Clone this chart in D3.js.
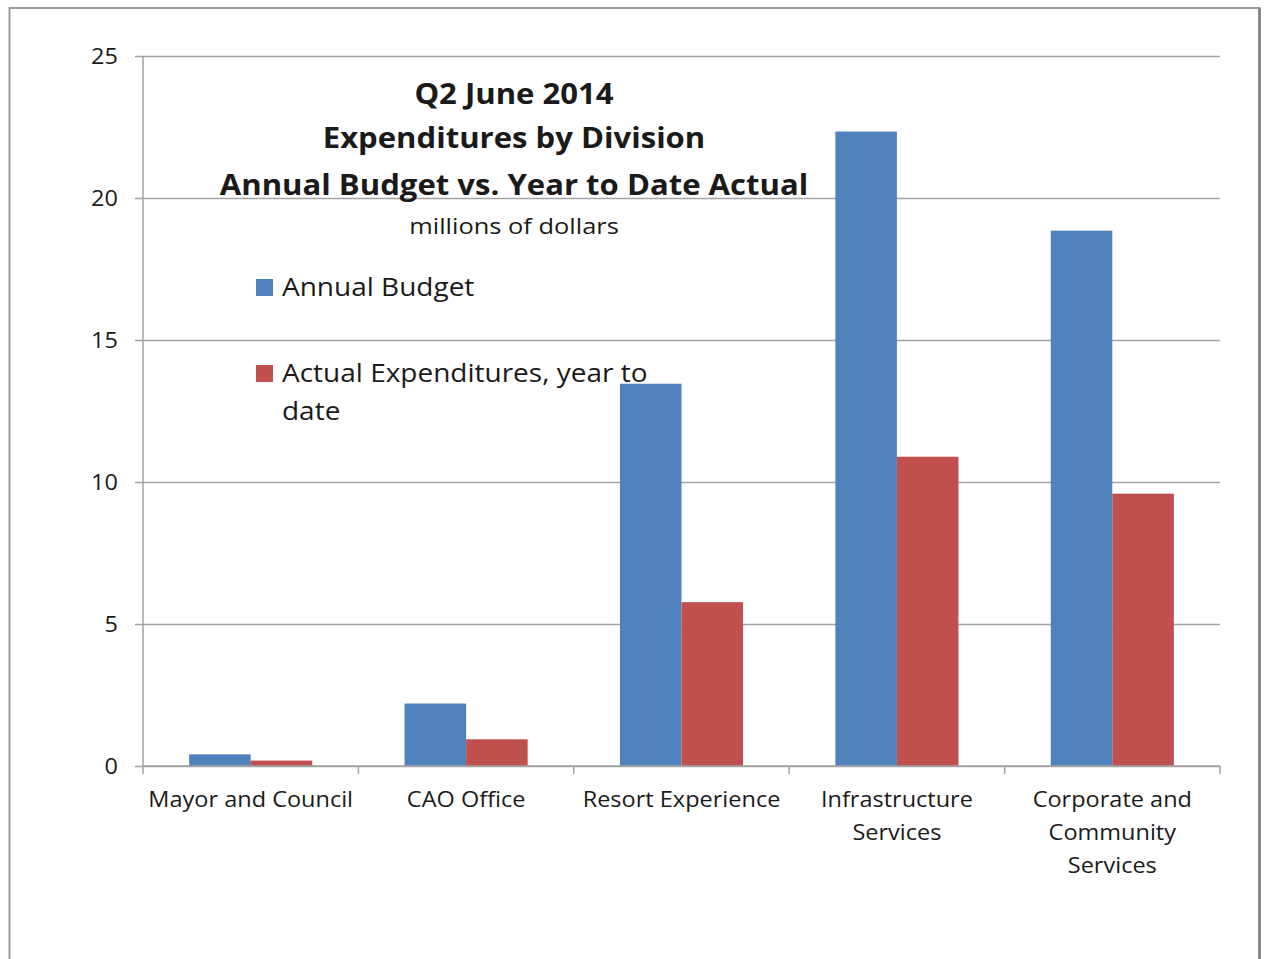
<!DOCTYPE html>
<html>
<head>
<meta charset="utf-8">
<script src="https://cdn.jsdelivr.net/npm/d3@7"></script>
<style>
  html, body { margin: 0; padding: 0; background: #ffffff; }
  svg { display: block; }
  text { font-family: "Open Sans", Lato, sans-serif; fill: #1a1a1a; }
</style>
</head>
<body>
<svg id="chart" width="1264" height="959"></svg>
<script>
// Divisions along the x axis (each label split into display lines)
const categories = ["Mayor and Council", "CAO Office", "Resort Experience", "Infrastructure Services", "Corporate and Community Services"];
const categoryLines = [
  ["Mayor and Council"],
  ["CAO Office"],
  ["Resort Experience"],
  ["Infrastructure", "Services"],
  ["Corporate and", "Community", "Services"]
];
const seriesNames = ["Annual Budget", "Actual Expenditures, year to date"];
const annualBudget = [0.41, 2.2, 13.46, 22.34, 18.85];
const actualYTD = [0.19, 0.94, 5.77, 10.89, 9.59];
const yTicks = [0, 5, 10, 15, 20, 25];
const titleLines = ["Q2 June 2014", "Expenditures by Division", "Annual Budget vs. Year to Date Actual"];
const subtitle = "millions of dollars";

const colors = { "Annual Budget": "#4F81BD", "Actual Expenditures, year to date": "#C0504D" };
const seriesValues = [annualBudget, actualYTD];

const svg = d3.select("#chart");
const STRETCH = 1.12; // horizontal widening of the lettering

// text helper: places a horizontally widened label
function label(parent, x, y, str, size, opts = {}) {
  const g = parent.append("g").attr("transform", `translate(${x},${y}) scale(${opts.stretch || STRETCH},1)`);
  return g.append("text").attr("x", 0).attr("y", 0).attr("dy", "0.35em")
    .attr("text-anchor", opts.anchor || "start")
    .attr("font-size", size)
    .attr("font-weight", opts.weight || 400)
    .attr("fill", opts.fill || "#1a1a1a")
    .text(str);
}

// outer frame
svg.append("rect").attr("x", 9.5).attr("y", 8).attr("width", 1250).attr("height", 960)
  .attr("fill", "#fff").attr("stroke", "#9a9a9a").attr("stroke-width", 2);
svg.append("line").attr("x1", 1259.5).attr("x2", 1259.5).attr("y1", 8).attr("y2", 959)
  .attr("stroke", "#8a8a8a").attr("stroke-width", 3);

const plot = { left: 143, right: 1220, top: 56, bottom: 766 };

const x0 = d3.scaleBand().domain(categories).range([plot.left, plot.right]).paddingInner(0).paddingOuter(0);
const x1 = d3.scaleBand().domain(seriesNames).range([0, x0.bandwidth()]).paddingInner(0).paddingOuter(0.75);
const y = d3.scaleLinear().domain([0, 25]).range([plot.bottom, plot.top]);

// gridlines + y axis ticks
const yAxis = d3.axisLeft(y).tickValues(yTicks).tickSize(-(plot.right - plot.left) - 8).tickFormat(d3.format("d"));
const gy = svg.append("g").attr("transform", `translate(${plot.left - 8},0)`).call(yAxis);
gy.select(".domain").remove();
gy.selectAll(".tick line").attr("stroke", "#a3a3a3").attr("stroke-width", 1.5).attr("x1", 0).attr("x2", plot.right - plot.left + 8);
gy.selectAll(".tick text").remove();
gy.selectAll(".tick").each(function (d) {
  label(d3.select(this), -17, 0, d3.format("d")(d), 21, { anchor: "end", fill: "#222" });
});

// y axis line
svg.append("line").attr("x1", plot.left).attr("x2", plot.left).attr("y1", plot.top).attr("y2", plot.bottom)
  .attr("stroke", "#a3a3a3").attr("stroke-width", 1.5);

// title block
const titleY = [94, 138, 185];
titleLines.forEach((t, i) => {
  label(svg, 514, titleY[i], t, 28, { anchor: "middle", weight: 700, stretch: 1.11 });
});
label(svg, 514, 226, subtitle, 22.5, { anchor: "middle", stretch: 1.13 });

// bars
const groups = svg.append("g").selectAll("g").data(categories).join("g")
  .attr("transform", d => `translate(${x0(d)},0)`);
groups.selectAll("rect")
  .data((d, i) => seriesNames.map((s, k) => ({ s, v: seriesValues[k][i] })))
  .join("rect")
  .attr("x", d => x1(d.s))
  .attr("width", x1.bandwidth())
  .attr("y", d => y(d.v))
  .attr("height", d => y(0) - y(d.v))
  .attr("fill", d => colors[d.s]);

// x axis baseline and category boundary ticks
svg.append("line").attr("x1", plot.left).attr("x2", plot.right).attr("y1", plot.bottom).attr("y2", plot.bottom)
  .attr("stroke", "#a3a3a3").attr("stroke-width", 1.5);
const bounds = categories.map(c => x0(c)).concat([plot.right]);
svg.append("g").selectAll("line").data(bounds).join("line")
  .attr("x1", d => d).attr("x2", d => d).attr("y1", plot.bottom).attr("y2", plot.bottom + 8)
  .attr("stroke", "#a3a3a3").attr("stroke-width", 1.5);

// category labels
categories.forEach((c, i) => {
  const cx = x0(c) + x0.bandwidth() / 2;
  categoryLines[i].forEach((line, j) => {
    label(svg, cx, 800 + j * 33, line, 21, { anchor: "middle", fill: "#222" });
  });
});

// legend
const legend = [
  { s: seriesNames[0], lines: ["Annual Budget"], y: 287 },
  { s: seriesNames[1], lines: ["Actual Expenditures, year to", "date"], y: 373 }
];
legend.forEach(l => {
  svg.append("rect").attr("x", 256).attr("y", l.y - 8).attr("width", 17).attr("height", 17).attr("fill", colors[l.s]);
  l.lines.forEach((t, j) => {
    label(svg, 282, l.y + j * 38, t, 25);
  });
});
</script>
</body>
</html>
